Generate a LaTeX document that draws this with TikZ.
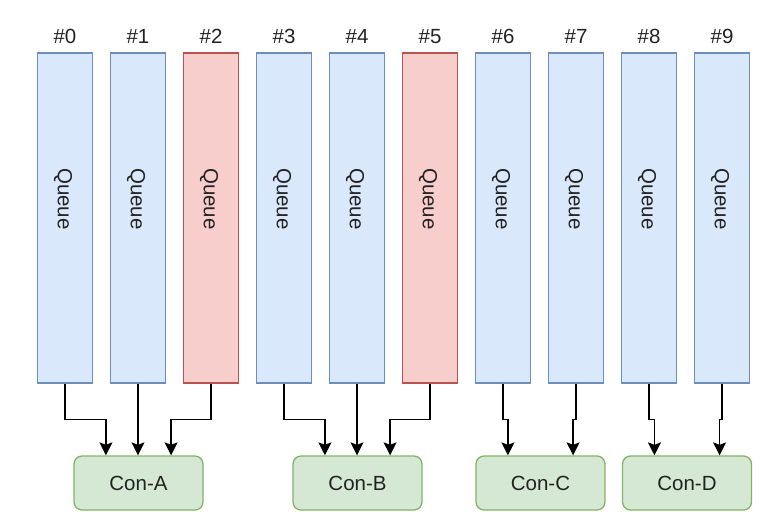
\documentclass[tikz,border=0pt]{standalone}
\usepackage{fontspec}
\setmainfont{Liberation Sans}
\usetikzlibrary{arrows.meta,calc}
\definecolor{bfill}{HTML}{DAE8FC}
\definecolor{bdraw}{HTML}{6C8EBF}
\definecolor{rfill}{HTML}{F8CECC}
\definecolor{rdraw}{HTML}{B85450}
\definecolor{gfill}{HTML}{D5E8D4}
\definecolor{gdraw}{HTML}{82B366}
\definecolor{txt}{HTML}{222222}
\tikzset{
  queue/.style={draw=bdraw,fill=bfill,line width=1.3pt,minimum width=55pt,minimum height=330pt,inner sep=0pt},
  redqueue/.style={queue,draw=rdraw,fill=rfill},
  qtext/.style={rotate=-90,font=\fontsize{20.5}{24}\selectfont,text=txt,inner sep=0pt},
  idx/.style={font=\fontsize{20.5}{24}\selectfont,text=txt,inner sep=0pt},
  con/.style={draw=gdraw,fill=gfill,line width=1.3pt,rounded corners=8pt,minimum width=129pt,minimum height=54pt,inner sep=0pt,font=\fontsize{20.5}{24}\selectfont,text=txt},
  arr/.style={draw=black,line width=1.3pt,-{Stealth[length=13pt,width=13pt,inset=2.5pt]}}
}
\begin{document}
\begin{tikzpicture}[x=1pt,y=-1pt]
\useasboundingbox (0,0) rectangle (773,529);
% queues
\foreach \i in {0,...,9}{
  \pgfmathsetmacro{\cx}{65+73*\i}
  \ifnum\i=2
    \node[redqueue] (q\i) at (\cx,218) {};
  \else\ifnum\i=5
    \node[redqueue] (q\i) at (\cx,218) {};
  \else
    \node[queue] (q\i) at (\cx,218) {};
  \fi\fi
  \node[qtext] (qt\i) at ($(q\i.center)+(-2,-19)$) {Queue};
  \node[idx] (n\i) at ($(q\i.north)+(0,-16)$) {\#\i};
}
% consumers
\node[con] (ca) at (138.5,483) {Con-A};
\node[con] (cb) at (357.5,483) {Con-B};
\node[con] (cc) at (540.5,483) {Con-C};
\node[con] (cd) at (687,483) {Con-D};
\foreach \c in {ca,cb,cc,cd}{
  \coordinate (\c1) at ($(\c.north west)!0.25!(\c.north east)$);
  \coordinate (\c3) at ($(\c.north west)!0.75!(\c.north east)$);
}
% connectors
\draw[arr] (q0.south) |- ($(q0.south)!0.5!(ca1)$) -| (ca1);
\draw[arr] (q1.south) -- (q1.south |- ca.north);
\draw[arr] (q2.south) |- ($(q2.south)!0.5!(ca3)$) -| (ca3);
\draw[arr] (q3.south) |- ($(q3.south)!0.5!(cb1)$) -| (cb1);
\draw[arr] (q4.south) -- (q4.south |- cb.north);
\draw[arr] (q5.south) |- ($(q5.south)!0.5!(cb3)$) -| (cb3);
\draw[arr] (q6.south) |- ($(q6.south)!0.5!(cc1)$) -| (cc1);
\draw[arr] (q7.south) |- ($(q7.south)!0.5!(cc3)$) -| (cc3);
\draw[arr] (q8.south) |- ($(q8.south)!0.5!(cd1)$) -| (cd1);
\draw[arr] (q9.south) |- ($(q9.south)!0.5!(cd3)$) -| (cd3);
\end{tikzpicture}
\end{document}
